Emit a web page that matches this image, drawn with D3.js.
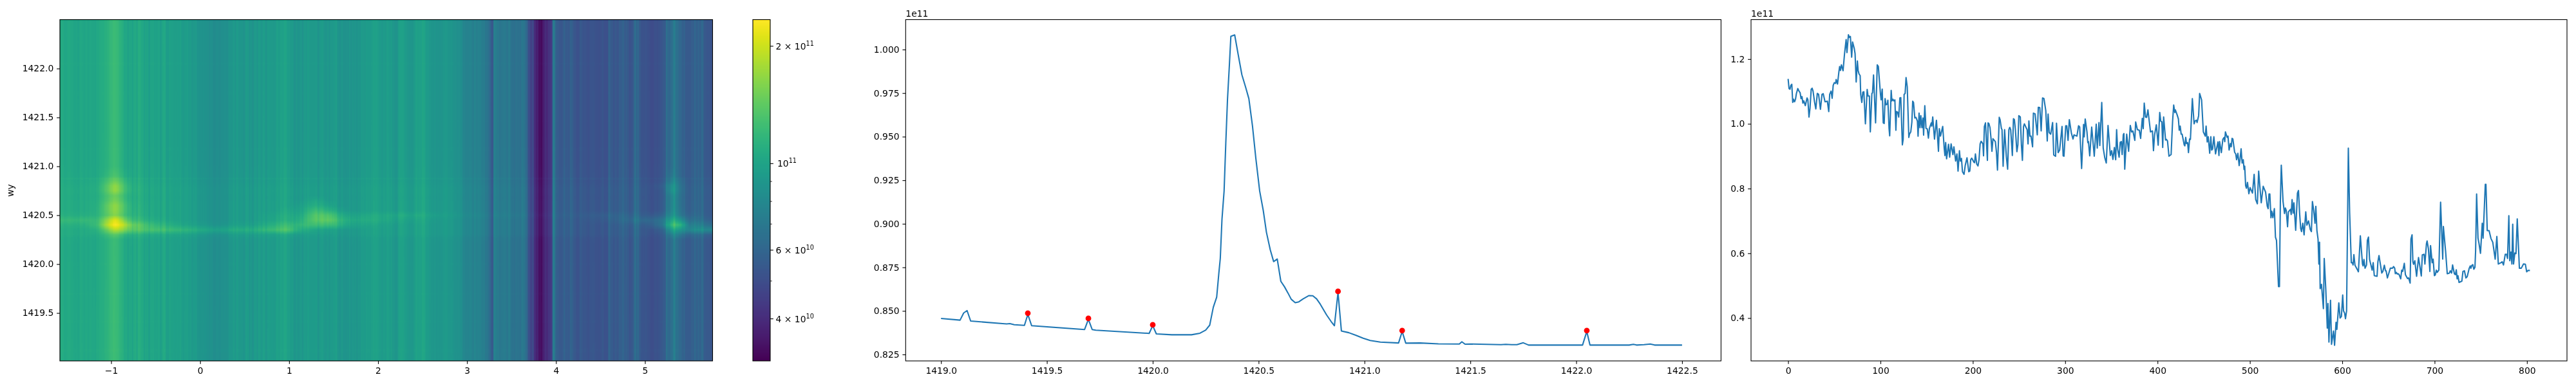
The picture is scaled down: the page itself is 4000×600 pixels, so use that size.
<!DOCTYPE html>
<html><head><meta charset="utf-8">
<script src="https://cdnjs.cloudflare.com/ajax/libs/d3/7.8.5/d3.min.js"></script>
<style>
html,body{margin:0;padding:0;background:#fff;width:4000px;height:600px;overflow:hidden}
#root{position:relative;width:4000px;height:600px}
canvas,svg{position:absolute;left:0;top:0}
text{font-family:"DejaVu Sans",sans-serif;font-size:13.9px;fill:#000}
</style></head><body><div id="root"></div>
<script>
// Column profile (third panel), units of 1e11
const colIndex=[0,1,2,3,4,5,6,7,8,9,10.5,12,13,14,15,16,17,18.6,20.5,21.4,22.6,23.7,25,26,27,28.6,30,31.6,33,35,36.7,38,40,42.5,44,45,46.5,47.7,48.8,50,51.4,52,53.5,55,55.8,56.7,57.7,59.5,61,62.8,63.7,65.3,66.3,67.4,68.8,69.8,71.6,72.5,73.7,75,75.8,76.8,78,78.6,79.8,80.9,82,83.7,85.6,86.5,88,89,90.7,91.4,92.5,94.7,96.5,97.7,100,100.7,101.9,103,104,105,106,107.4,108,109.3,110,111.6,112.4,113.5,114.4,115.6,116.7,117.4,118.6,119.8,121,122,123.7,124.6,125.6,126.7,127.7,129,130.7,131.4,132.8,134,134.9,135.8,137.2,138.4,140,140.7,141.8,142.8,143.7,144.9,146,146.7,148,149.3,150.7,151.9,153,155,155.6,156.6,158.5,160.6,162.8,163.7,165,167.4,169,169.8,170.6,171.6,173.7,174.9,176.5,178.4,179.5,181.4,182.8,184,185.5,186.5,187.7,188.8,190.5,191.8,193.7,195.6,196.7,197.7,198.8,201,201.9,202.8,204.2,205.6,206.7,207.9,209,210.9,211.6,212.5,213.7,215.8,216.5,217.4,218.6,219.8,220.7,221.8,224.4,225.6,226.7,228.6,229.5,230.9,231.6,232.8,234.4,236.3,237.7,239,240,241,242.8,244,245,246,247.7,248.8,249.8,251.4,252.6,253.7,254.9,255.8,257.4,258.8,259.8,260.7,261.9,263,264.7,265.6,267.4,268.6,269.8,270.9,272.5,274,275.5,277,279,280.6,281.5,282.7,284.3,286.4,287.6,289.6,290.6,292.4,294,296.6,297.8,298.7,300.6,301.7,303.1,304.5,306.8,308.5,309.6,312.7,314.5,315.7,317.8,319.9,320.6,321.7,323.6,324.5,325.2,326.6,328.7,331.5,333.6,334.7,336.6,337.5,339.6,341.2,342.9,344.5,346.4,348.9,350.3,351.7,353.3,354.7,355.7,356.8,358.4,359.6,360.8,361.7,362.9,363.6,364.5,366.6,368.7,370.5,371.9,373.3,375.4,376.3,378.2,380.3,381.7,383.5,384.5,385.6,387,388.2,389.6,392.4,394.5,395.6,396.8,398.7,400.7,402.4,403.5,404.7,405.6,406.6,408.7,409.6,410.8,412.4,414.7,416.3,417.5,418.7,419.3,421.2,422.6,423.5,424.5,425.6,426.6,428.9,429.6,430.5,431.4,432.6,433.5,434.7,435.6,437.7,439.6,440.7,442.1,442.8,444.5,445.6,447.7,449.6,451.7,452.6,453.8,454.9,456.5,457.7,458.6,459.6,461,462.8,465.4,466.5,467.2,469.1,470.7,472.1,472.8,473.5,475.4,476.3,477.5,478.9,479.8,480.7,481.6,483.5,484.7,485.6,487,488.4,489.3,490.5,491.6,492.8,493.7,494.4,495.4,496.3,497.4,498.9,500.2,502.8,504.6,506.3,508.1,509.5,510.9,512.3,514.4,517,518.8,519.8,520.7,521.6,522.8,523.7,524.9,526.5,527.7,528.8,531,532,533,534,535.9,537.5,538.4,539.4,540.8,541.7,544,544.7,545.7,546.8,547.7,549.6,551.5,552.6,553.8,555,555.9,557.3,558.7,560.5,561.7,563.5,565.4,566.6,567.7,569.1,570.5,571.4,572.6,573.8,574.7,575.4,576.1,577.5,579.6,580.5,582.2,583.8,584.5,585.6,587.3,588.4,590.5,591.7,593.3,594.2,596.3,597.7,599.1,600.5,601.4,602.6,603.5,604.7,606.6,608,609.8,611,611.7,612.6,613.8,616.1,617.5,619.6,621.9,622.6,623.5,624.7,626.3,627.2,628.4,629.6,632.4,633.5,634.7,637.7,638.6,639.8,642.8,644,645.6,646.8,647.5,648.9,652.1,654.4,655.6,656.8,657.5,658.6,659.6,660.7,661.6,663.3,664.4,665.4,667.2,668.4,670.7,671.9,673.5,674.4,675.6,676.5,677.2,678.6,680.5,682.6,685.6,686.7,688.6,689.5,691.2,691.9,693.3,694.9,695.6,697.4,698.4,699.8,700.7,701.9,702.8,704.6,706.5,708.8,709.5,711.9,713.7,716,717,718.4,719.5,721.4,722.5,723.5,724.4,725.3,726.5,729.5,730.7,732.3,733.9,735.3,737.4,738.6,739.3,740.2,741.4,742.5,743.7,744.4,745.5,747,748.1,749.7,751.6,752.5,754.9,755.6,757,759,761,763,765.6,767.4,769,771.8,773.2,774.6,776.5,777.9,779,780.4,781.4,782.7,783.7,784.6,785.5,786.9,788.1,789.5,791.8,793.9,796.3,798.3,799.7,801.1,803.2];
const colValues=[1.139,1.109,1.107,1.119,1.122,1.066,1.076,1.068,1.076,1.094,1.109,1.1,1.096,1.078,1.084,1.064,1.071,1.056,1.08,1.074,1.021,1.048,1.107,1.11,1.101,1.068,1.046,1.094,1.091,1.045,1.091,1.093,1.068,1.07,1.038,1.091,1.101,1.079,1.119,1.127,1.125,1.137,1.123,1.161,1.177,1.165,1.182,1.164,1.214,1.26,1.22,1.275,1.267,1.27,1.206,1.253,1.233,1.217,1.129,1.194,1.165,1.154,1.149,1.091,1.066,1.098,1.099,1.0,1.106,1.086,1.086,0.975,1.094,1.096,1.151,1.003,1.182,1.177,1.091,1.074,1.107,1.003,1.001,1.078,1.059,1.061,1.073,0.985,0.963,1.103,1.071,1.076,1.071,1.074,0.98,1.038,1.036,1.021,1.08,1.081,0.935,0.952,1.091,1.094,1.143,1.114,0.958,0.968,0.975,1.005,1.07,1.066,1.018,1.02,1.008,0.962,1.033,0.988,1.025,0.988,1.018,0.965,1.056,0.986,0.984,0.956,0.986,1.003,0.993,1.021,0.953,1.011,0.915,0.985,0.962,0.992,0.925,0.902,0.942,0.892,0.937,0.897,0.938,0.905,0.929,0.885,0.907,0.854,0.917,0.885,0.893,0.852,0.844,0.872,0.895,0.852,0.854,0.889,0.894,0.882,0.88,0.907,0.876,0.87,0.889,0.938,0.946,0.938,0.901,0.992,1.003,0.887,1.003,1.001,0.988,0.952,0.915,0.954,0.945,0.912,0.857,1.02,1.013,0.986,0.982,0.869,0.982,0.899,0.86,0.982,0.989,0.982,0.902,1.016,1.013,0.985,0.914,0.935,1.025,1.021,0.935,0.887,0.992,1.0,0.99,0.982,0.938,1.009,0.962,0.962,0.929,1.033,1.031,0.998,0.966,1.051,1.05,0.978,1.08,1.078,1.041,0.947,1.03,0.973,0.968,1.004,0.904,0.9,1.002,0.911,0.919,0.992,0.901,0.9,0.994,0.994,0.949,1.013,0.97,0.953,0.966,0.962,0.994,0.99,0.862,0.998,0.96,1.015,0.975,0.942,0.945,0.901,0.99,0.9,0.999,0.925,1.004,0.933,1.066,0.925,0.895,0.879,0.995,0.902,0.917,0.89,0.927,0.889,0.982,0.922,0.897,0.943,0.945,0.905,0.966,0.97,0.86,0.968,0.915,0.995,0.975,0.978,0.949,1.006,0.982,0.98,0.955,1.017,0.985,1.064,1.021,1.02,1.043,0.975,0.978,0.917,0.966,0.997,0.934,1.035,1.008,1.006,0.927,1.021,0.95,0.952,0.947,0.9,0.905,1.008,1.058,1.035,1.043,1.028,1.015,0.98,0.993,0.968,0.968,0.935,0.932,0.958,0.939,0.942,0.911,0.953,0.952,1.078,1.0,1.009,1.011,1.004,1.025,1.094,1.074,0.975,0.962,0.993,0.944,0.96,0.909,0.96,0.919,0.922,0.96,0.907,0.944,0.902,0.945,0.911,0.952,0.958,0.945,0.975,0.958,0.962,0.919,0.939,0.929,0.955,0.953,0.912,0.907,0.889,0.909,0.871,0.889,0.923,0.879,0.889,0.859,0.869,0.809,0.801,0.819,0.784,0.803,0.786,0.844,0.766,0.753,0.854,0.803,0.756,0.807,0.789,0.746,0.738,0.783,0.783,0.71,0.73,0.71,0.738,0.65,0.64,0.497,0.497,0.76,0.872,0.76,0.723,0.74,0.732,0.682,0.728,0.736,0.72,0.766,0.724,0.756,0.671,0.786,0.794,0.726,0.677,0.667,0.693,0.657,0.728,0.687,0.7,0.673,0.667,0.76,0.733,0.693,0.745,0.67,0.644,0.567,0.634,0.491,0.504,0.429,0.584,0.488,0.369,0.445,0.326,0.455,0.319,0.36,0.316,0.387,0.365,0.447,0.4,0.405,0.471,0.422,0.415,0.398,0.422,0.925,0.726,0.571,0.571,0.564,0.596,0.563,0.551,0.543,0.654,0.567,0.561,0.581,0.554,0.564,0.64,0.65,0.581,0.548,0.571,0.531,0.529,0.574,0.593,0.539,0.544,0.563,0.546,0.546,0.524,0.554,0.554,0.559,0.554,0.537,0.541,0.536,0.537,0.534,0.521,0.548,0.544,0.569,0.534,0.522,0.524,0.508,0.644,0.657,0.574,0.566,0.577,0.529,0.587,0.53,0.595,0.597,0.567,0.63,0.638,0.614,0.544,0.624,0.571,0.582,0.531,0.533,0.548,0.541,0.548,0.758,0.582,0.683,0.607,0.537,0.539,0.546,0.539,0.564,0.537,0.534,0.549,0.521,0.531,0.51,0.514,0.544,0.546,0.524,0.528,0.553,0.561,0.554,0.562,0.565,0.551,0.557,0.607,0.783,0.647,0.63,0.6,0.693,0.647,0.813,0.813,0.67,0.67,0.646,0.634,0.582,0.652,0.567,0.571,0.574,0.564,0.597,0.597,0.584,0.716,0.577,0.604,0.567,0.69,0.567,0.601,0.599,0.706,0.554,0.554,0.567,0.566,0.543,0.547,0.547];
// Row profile (second panel), units of 1e11
const rowPositions=[1419.0,1419.09,1419.107,1419.123,1419.14,1419.30,1419.31,1419.325,1419.346,1419.394,1419.41,1419.428,1419.678,1419.696,1419.714,1419.731,1419.983,1420.0,1420.017,1420.09,1420.183,1420.223,1420.25,1420.269,1420.286,1420.302,1420.312,1420.319,1420.327,1420.337,1420.345,1420.353,1420.362,1420.369,1420.387,1420.404,1420.421,1420.438,1420.454,1420.471,1420.487,1420.505,1420.522,1420.537,1420.555,1420.571,1420.588,1420.605,1420.622,1420.639,1420.654,1420.673,1420.69,1420.71,1420.738,1420.756,1420.774,1420.791,1420.821,1420.842,1420.858,1420.875,1420.891,1420.926,1420.96,1420.994,1421.027,1421.075,1421.161,1421.178,1421.195,1421.263,1421.349,1421.448,1421.46,1421.475,1421.50,1421.645,1421.667,1421.695,1421.72,1421.75,1421.775,1422.03,1422.05,1422.065,1422.25,1422.27,1422.285,1422.32,1422.35,1422.37,1422.5];
const rowValues=[0.8457,0.8447,0.8488,0.8502,0.8442,0.8426,0.8425,0.8427,0.8421,0.8417,0.8480,0.8415,0.8393,0.8452,0.8393,0.8389,0.8371,0.8415,0.8368,0.8363,0.8363,0.8372,0.839,0.8418,0.8521,0.8579,0.8714,0.8801,0.9026,0.9188,0.9462,0.9712,0.9912,1.0076,1.0084,0.9968,0.9855,0.9787,0.9718,0.9562,0.9375,0.9188,0.9076,0.8951,0.8851,0.8783,0.8798,0.867,0.8639,0.8602,0.8567,0.8547,0.8552,0.8569,0.8588,0.8587,0.8569,0.8539,0.8477,0.844,0.8415,0.8606,0.8385,0.8375,0.836,0.8343,0.833,0.8321,0.8316,0.8382,0.8315,0.8316,0.8311,0.831,0.8323,0.8309,0.831,0.8306,0.8308,0.8306,0.8306,0.8317,0.8304,0.8304,0.8382,0.8304,0.8304,0.8308,0.8304,0.8306,0.831,0.8304,0.8304];
const peakPositions=[1419.41,1419.696,1420.0,1420.875,1421.178,1422.05];
const peakValues=[0.8487,0.8457,0.8420,0.8612,0.8387,0.8387];
// Localised brightening of the image, percent above the column level
const ridgeX=[-1.6,-1.3,-1.15,-1.05,-0.95,-0.85,-0.75,-0.5,-0.2,0.2,0.6,0.85,1.0,1.15,1.3,1.45,1.55,1.7,2.0,2.3,2.8,4.2,4.6,5.0,5.2,5.3,5.4,5.5,5.76];
const ridgeY=[1420.25,1420.3,1420.35,1420.4,1420.45,1420.5,1420.55,1420.6,1420.65,1420.7,1420.75,1420.8,1420.85,1420.9,1421.0];
const ridgeGain=[
[0,0,0,0,2,0,0,0,0,0,0,0,0,0,0,0,0,0,0,0,0,0,0,0,0,0,0,0,0],
[0,0,0,6,12,8,4,2,2,1,2,2,3,1,0,0,0,0,0,0,0,0,0,0,0,10,12,6,4],
[0,0,6,26,50,45,28,24,18,14,16,28,32,14,6,4,2,0,0,0,0,0,0,0,6,36,42,36,42],
[3,5,16,55,85,70,34,14,4,2,4,16,22,26,30,30,22,8,2,0,0,0,0,4,24,75,80,26,16],
[10,12,14,42,70,42,14,3,0,0,0,6,10,20,44,50,30,14,8,3,0,0,3,14,24,50,40,12,4],
[2,3,6,18,30,18,6,0,0,0,0,4,8,14,42,40,20,8,7,8,2,2,6,4,8,25,12,4,0],
[0,0,5,20,34,20,4,0,0,0,0,0,4,8,28,18,6,0,0,0,0,0,0,0,0,18,8,0,0],
[0,0,4,20,34,20,3,0,0,0,0,0,0,4,14,6,0,0,0,0,0,0,0,0,0,16,6,0,0],
[0,0,3,14,24,14,2,0,0,0,0,0,0,0,8,0,0,0,0,0,0,0,0,0,0,16,6,0,0],
[0,0,2,12,20,12,2,0,0,0,0,0,0,0,0,0,0,0,0,0,0,0,0,0,0,18,6,0,0],
[0,0,3,18,36,18,3,0,0,0,0,0,0,0,0,0,0,0,0,0,0,0,0,0,0,28,8,0,0],
[0,0,3,18,36,18,3,0,0,0,0,0,0,0,0,0,0,0,0,0,0,0,0,0,4,26,8,0,0],
[0,0,2,12,22,12,2,0,0,0,0,0,0,0,0,0,0,0,0,0,0,0,0,0,0,14,6,0,0],
[0,0,0,4,10,4,0,0,0,0,0,0,0,0,0,0,0,0,0,0,0,0,0,0,0,6,0,0,0],
[0,0,0,0,3,0,0,0,0,0,0,0,0,0,0,0,0,0,0,0,0,0,0,0,0,0,0,0,0]];
// Tick labels
const heatXTicks=[-1,0,1,2,3,4,5];
const heatYTicks=[1419.5,1420,1420.5,1421,1421.5,1422];
const barMajor=[[2e11,"2 × 10","11"],[1e11,"10","11"],[6e10,"6 × 10","10"],[4e10,"4 × 10","10"]];
const barMinor=[9e10,8e10,7e10,5e10];
const rowXTicks=[1419,1419.5,1420,1420.5,1421,1421.5,1422,1422.5];
const rowYTicks=[0.825,0.85,0.875,0.9,0.925,0.95,0.975,1.0];
const colXTicks=[0,100,200,300,400,500,600,700,800];
const colYTicks=[0.4,0.6,0.8,1.0,1.2];

const TOP=30.5,BOT=561,TICK=4.86,PAD=4.86,LW=1.11,BLUE="#1f77b4";
const STRIPE=0.6, WINDOW=4, LEVEL=0.965; // the image carries the column noise at reduced contrast
const root=d3.select("#root");
const canvas=root.append("canvas").attr("width",4000).attr("height",600).node();
const svg=root.append("svg").attr("width",4000).attr("height",600);
const ctx=canvas.getContext("2d");

const heatX=d3.scaleLinear().domain([-1.576,5.76]).range([93,1106.5]);
const heatY=d3.scaleLinear().domain([1419.01,1422.5]).range([BOT,TOP]);
const colour=d3.scaleLog().domain([3.12e10,2.34e11]).range([0,1]).clamp(true);
const barY=d3.scaleLog().domain([3.12e10,2.34e11]).range([BOT,TOP]);
const indexOfX=d3.scaleLinear().domain(heatX.domain()).range([0,802]);
const colAt=d3.scaleLinear().domain(colIndex).range(colValues);
const rowAt=d3.scaleLinear().domain(rowPositions).range(rowValues);
const gx=d3.scaleLinear().domain(ridgeX).range(d3.range(ridgeX.length)).clamp(true);
const gy=d3.scaleLinear().domain(ridgeY).range(d3.range(ridgeY.length)).clamp(true);

// per-column level for the image
const colRaw=d3.range(0,803).map(i=>colAt(i));
const colImage=colRaw.map((v,i)=>{
  const m=d3.mean(colRaw.slice(Math.max(0,i-WINDOW),i+WINDOW+1));
  return (m+STRIPE*(v-m))*LEVEL;
});

const lut=d3.range(1024).map(i=>{const c=d3.rgb(d3.interpolateViridis(i/1023));return [c.r,c.g,c.b];});
function gain(x,y){
  const fx=gx(x),fy=gy(y),i=Math.min(Math.floor(fx),ridgeX.length-2),j=Math.min(Math.floor(fy),ridgeY.length-2);
  const a=fx-i,b=fy-j,g=ridgeGain;
  return (g[j][i]*(1-a)*(1-b)+g[j][i+1]*a*(1-b)+g[j+1][i]*(1-a)*b+g[j+1][i+1]*a*b)/100;
}
(function paintHeat(){
  const [x0,x1]=heatX.range().map(Math.round),y0=Math.round(TOP),y1=Math.round(BOT);
  const W=x1-x0,H=y1-y0,img=ctx.createImageData(W,H);
  for(let py=0;py<H;py++){
    const yv=heatY.invert(y0+py+.5);
    const rowF=Math.min(rowAt(yv),0.86)/0.84;
    for(let px=0;px<W;px++){
      const xv=heatX.invert(x0+px+.5);
      const idx=Math.min(802,Math.max(0,Math.round(indexOfX(xv))));
      const v=colImage[idx]*1e11*rowF*(1+gain(xv,yv)*1.04);
      const c=lut[Math.round(colour(v)*1023)],k=(py*W+px)*4;
      img.data[k]=c[0];img.data[k+1]=c[1];img.data[k+2]=c[2];img.data[k+3]=255;
    }
  }
  ctx.putImageData(img,x0,y0);
  // colour bar
  const bx=1169,bw=27;
  for(let py=y0;py<y1;py++){
    ctx.fillStyle=d3.interpolateViridis((y1-py-.5)/(y1-y0));
    ctx.fillRect(bx,py,bw,1);
  }
})();

function frame(x0,x1,y0,y1){
  svg.append("rect").attr("x",x0).attr("y",y0).attr("width",x1-x0).attr("height",y1-y0)
    .attr("fill","none").attr("stroke","#000").attr("stroke-width",LW);
}
function axes(x,y,xTicks,yTicks,xf,yf){
  const g=svg.append("g");
  g.append("g").attr("transform",`translate(0,${BOT})`)
    .call(d3.axisBottom(x).tickValues(xTicks).tickFormat(xf).tickSize(TICK).tickPadding(PAD).tickSizeOuter(0));
  g.append("g").attr("transform",`translate(${x.range()[0]},0)`)
    .call(d3.axisLeft(y).tickValues(yTicks).tickFormat(yf).tickSize(TICK).tickPadding(PAD).tickSizeOuter(0));
  g.selectAll("path.domain").remove();
  g.selectAll(".tick line").attr("stroke","#000").attr("stroke-width",LW);
  g.selectAll(".tick text").attr("fill","#000").style("font-family",'"DejaVu Sans",sans-serif').style("font-size","13.9px");
  frame(x.range()[0],x.range()[1],TOP,BOT);
}
const minus=s=>s.replace("-","\u2212");
// Panel 1
axes(heatX,heatY,heatXTicks,heatYTicks,d=>minus(d3.format("d")(d)),d3.format(".1f"));
svg.append("text").attr("transform","translate(21,296) rotate(-90)").attr("text-anchor","middle").text("wy");
// Colour bar
frame(1169,1196,TOP,BOT);
barMajor.forEach(([v,base,exp])=>{
  const y=barY(v);
  svg.append("line").attr("x1",1196).attr("x2",1196+TICK).attr("y1",y).attr("y2",y).attr("stroke","#000").attr("stroke-width",LW);
  const t=svg.append("text").attr("x",exp&&base.length>2?1204.5:1207).attr("y",y+5);
  t.append("tspan").text(base);
  t.append("tspan").attr("dy",-6).style("font-size","9.7px").text(exp);
});
barMinor.forEach(v=>{
  const y=barY(v);
  svg.append("line").attr("x1",1196).attr("x2",1196+2.78).attr("y1",y).attr("y2",y).attr("stroke","#000").attr("stroke-width",.83);
});
// Panel 2
const rowX=d3.scaleLinear().domain([1418.833,1422.684]).range([1406.3,2672.4]);
const rowY=d3.scaleLinear().domain([0.8213,1.01717]).range([BOT,TOP]);
axes(rowX,rowY,rowXTicks,rowYTicks,d3.format(".1f"),d3.format(".3f"));
const line2=d3.line().x((d,i)=>rowX(rowPositions[i])).y(d=>rowY(d));
svg.append("path").datum(rowValues).attr("d",line2).attr("fill","none").attr("stroke",BLUE).attr("stroke-width",2.08).attr("stroke-linejoin","round");
svg.selectAll("circle.peak").data(peakValues).enter().append("circle").attr("class","peak")
  .attr("cx",(d,i)=>rowX(peakPositions[i])).attr("cy",d=>rowY(d)).attr("r",4.4).attr("fill","#ff0000");
svg.append("text").attr("x",1406.3).attr("y",26).text("1e11");
// Panel 3
const colX=d3.scaleLinear().domain([-40.15,843.35]).range([2719,3986]);
const colY=d3.scaleLinear().domain([0.2676,1.3219]).range([BOT,TOP]);
axes(colX,colY,colXTicks,colYTicks,d3.format("d"),d3.format(".1f"));
const line3=d3.line().x((d,i)=>colX(colIndex[i])).y(d=>colY(d));
svg.append("path").datum(colValues).attr("d",line3).attr("fill","none").attr("stroke",BLUE).attr("stroke-width",2.08).attr("stroke-linejoin","round");
svg.append("text").attr("x",2719).attr("y",26).text("1e11");
</script></body></html>
